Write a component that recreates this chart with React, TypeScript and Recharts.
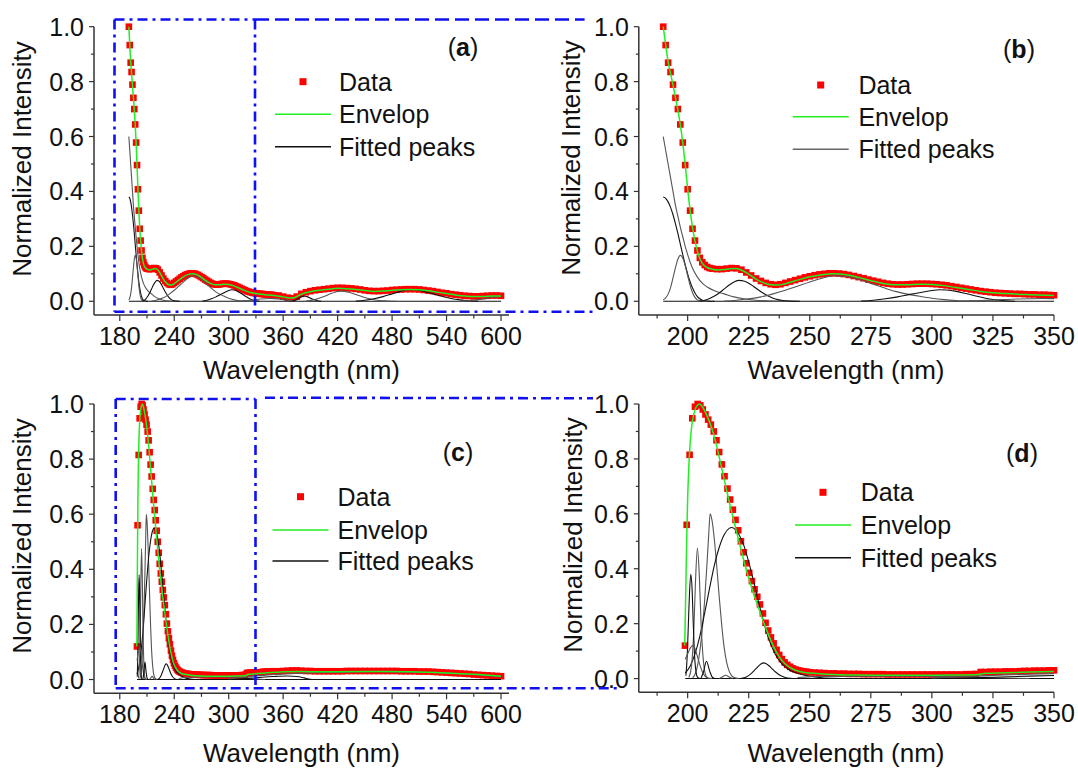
import { ComposedChart, XAxis, YAxis, Scatter, Line } from "recharts";

const FONT = "Arial, 'Liberation Sans', Helvetica, sans-serif";
const AXIS = "#333";
const RED = "#ff0000";
const GREEN = "#22ee22";
const BLUE = "#1010f0";

// sample 1 -> panels (a) and (b)
const S1_DATA = [
  [190, 1.0], [191, 0.933], [192, 0.869], [193, 0.835], [194, 0.789], [195, 0.741], [196, 0.7], [197, 0.644],
  [198, 0.578], [199, 0.496], [200, 0.408], [201, 0.33], [202, 0.264], [203, 0.221], [204, 0.185], [205, 0.158],
  [206, 0.142], [207, 0.132], [208, 0.125], [209, 0.121], [210, 0.119], [212, 0.117], [214, 0.117], [216, 0.119],
  [218, 0.121], [220, 0.12], [222, 0.115], [224, 0.105], [226, 0.094], [228, 0.083], [230, 0.074], [232, 0.067],
  [234, 0.062], [236, 0.06], [238, 0.062], [240, 0.067], [242, 0.072], [244, 0.077], [246, 0.082], [248, 0.087],
  [250, 0.091], [252, 0.095], [254, 0.098], [256, 0.1], [258, 0.102], [260, 0.102], [262, 0.101], [264, 0.099],
  [266, 0.096], [268, 0.092], [270, 0.088], [272, 0.084], [274, 0.079], [276, 0.075], [278, 0.071], [280, 0.067],
  [282, 0.064], [284, 0.062], [286, 0.061], [288, 0.061], [290, 0.062], [292, 0.063], [294, 0.064], [296, 0.064],
  [298, 0.064], [300, 0.063], [302, 0.062], [304, 0.06], [306, 0.058], [308, 0.055], [310, 0.052], [312, 0.049],
  [314, 0.046], [316, 0.043], [318, 0.04], [320, 0.037], [322, 0.035], [324, 0.033], [326, 0.031], [328, 0.03],
  [330, 0.029], [332, 0.028], [334, 0.027], [336, 0.027], [338, 0.026], [340, 0.025], [342, 0.025], [344, 0.024],
  [346, 0.024], [348, 0.023], [350, 0.022], [355, 0.021], [360, 0.017], [365, 0.013], [370, 0.011], [375, 0.017],
  [380, 0.027], [385, 0.033], [390, 0.037], [395, 0.04], [400, 0.042], [405, 0.044], [410, 0.046], [415, 0.048],
  [420, 0.049], [425, 0.049], [430, 0.048], [435, 0.047], [440, 0.045], [445, 0.043], [450, 0.04], [455, 0.038],
  [460, 0.037], [465, 0.037], [470, 0.038], [475, 0.039], [480, 0.041], [485, 0.042], [490, 0.043], [495, 0.044],
  [500, 0.044], [505, 0.044], [510, 0.043], [515, 0.041], [520, 0.039], [525, 0.037], [530, 0.034], [535, 0.031],
  [540, 0.029], [545, 0.026], [550, 0.024], [555, 0.022], [560, 0.02], [565, 0.019], [570, 0.018], [575, 0.018],
  [580, 0.019], [585, 0.02], [590, 0.021], [595, 0.021], [600, 0.02],
];

const S1_ENVELOP = [
  [190, 1.0], [191, 0.935], [192, 0.872], [193, 0.83], [194, 0.787], [195, 0.742], [196, 0.697], [197, 0.643],
  [198, 0.577], [199, 0.497], [200, 0.41], [201, 0.332], [202, 0.268], [203, 0.22], [204, 0.183], [205, 0.155],
  [206, 0.138], [208, 0.123], [210, 0.117], [213, 0.114], [216, 0.117], [219, 0.119], [222, 0.114], [225, 0.099],
  [228, 0.081], [231, 0.068], [234, 0.06], [237, 0.059], [240, 0.064], [245, 0.077], [250, 0.089], [255, 0.097],
  [260, 0.1], [265, 0.097], [270, 0.087], [275, 0.075], [280, 0.065], [285, 0.06], [290, 0.06], [295, 0.062],
  [300, 0.061], [305, 0.057], [310, 0.05], [315, 0.043], [320, 0.036], [325, 0.031], [330, 0.028], [340, 0.024],
  [350, 0.021], [360, 0.016], [367, 0.012], [372, 0.013], [378, 0.023], [385, 0.031], [390, 0.035], [400, 0.04],
  [410, 0.044], [420, 0.047], [430, 0.046], [440, 0.043], [450, 0.039], [460, 0.036], [470, 0.037], [480, 0.04],
  [490, 0.042], [500, 0.043], [510, 0.042], [520, 0.038], [530, 0.033], [540, 0.028], [550, 0.023], [560, 0.019],
  [570, 0.017], [580, 0.017], [590, 0.019], [600, 0.019],
];

const S1_PEAK_190A = [
  [190, 0.6], [191, 0.55], [192, 0.5], [193, 0.45], [194, 0.4], [195, 0.35], [196, 0.31], [197, 0.27],
  [198, 0.235], [199, 0.2], [200, 0.17], [202, 0.12], [204, 0.088], [206, 0.066], [208, 0.052], [211, 0.038],
  [215, 0.027], [219, 0.016], [223, 0.009], [228, 0.004], [235, 0.001], [245, 0],
];
const S1_PEAK_190B = [
  [190, 0.38], [191, 0.375], [192, 0.362], [193, 0.342], [194, 0.315], [195, 0.283], [196, 0.247], [197, 0.208],
  [198, 0.17], [199, 0.133], [200, 0.1], [201, 0.071], [202, 0.048], [203, 0.03], [204, 0.017], [205, 0.009],
  [206, 0.004], [208, 0.001], [211, 0],
];
const S1_PEAK_197 = [
  [190, 0.005], [191, 0.012], [192, 0.026], [193, 0.05], [194, 0.085], [195, 0.122], [196, 0.153], [197, 0.167],
  [198, 0.158], [199, 0.13], [200, 0.093], [201, 0.058], [202, 0.031], [203, 0.014], [204, 0.005], [206, 0.001],
  [208, 0],
];
const S1_PEAK_221 = [
  [205, 0.001], [207, 0.004], [209, 0.01], [211, 0.019], [213, 0.031], [215, 0.045], [217, 0.059], [219, 0.07],
  [221, 0.076], [223, 0.074], [225, 0.066], [227, 0.054], [229, 0.041], [231, 0.029], [233, 0.019], [235, 0.011],
  [237, 0.006], [239, 0.003], [242, 0.001], [246, 0],
];
const S1_PEAK_260 = [
  [215, 0.001], [220, 0.004], [225, 0.009], [230, 0.016], [235, 0.027], [240, 0.04], [245, 0.055], [250, 0.07],
  [255, 0.084], [260, 0.093], [265, 0.09], [270, 0.08], [275, 0.065], [280, 0.05], [285, 0.036], [290, 0.026],
  [295, 0.018], [300, 0.011], [305, 0.006], [310, 0.003], [318, 0.001], [325, 0],
];
const S1_PEAK_303 = [
  [271, 0.001], [276, 0.004], [281, 0.009], [286, 0.016], [291, 0.025], [296, 0.033], [300, 0.039], [303, 0.042],
  [306, 0.041], [310, 0.036], [314, 0.028], [318, 0.019], [322, 0.011], [326, 0.005], [330, 0.002], [334, 0],
];
const S1_PEAK_345 = [
  [315, 0.001], [325, 0.004], [335, 0.008], [345, 0.01], [350, 0.0095], [355, 0.008], [365, 0.004], [375, 0.001],
];
const S1_PEAK_383 = [
  [370, 0.001], [375, 0.006], [380, 0.016], [383, 0.019], [387, 0.016], [392, 0.008], [397, 0.003], [402, 0],
];
const S1_PEAK_423 = [
  [385, 0.001], [395, 0.006], [405, 0.017], [412, 0.027], [418, 0.034], [423, 0.037], [428, 0.036], [435, 0.03],
  [445, 0.019], [455, 0.009], [465, 0.003], [475, 0.001], [485, 0],
];
const S1_PEAK_500 = [
  [440, 0.001], [450, 0.004], [460, 0.009], [470, 0.017], [480, 0.027], [490, 0.037], [497, 0.042], [505, 0.042],
  [515, 0.036], [525, 0.027], [535, 0.018], [545, 0.01], [555, 0.005], [565, 0.002], [575, 0],
];
const S1_PEAK_END = [[555, 0.001], [565, 0.003], [575, 0.006], [585, 0.011], [595, 0.016], [600, 0.018]];
const S1_BASE = [[190, 0], [350, 0], [600, 0]];

// sample 2 -> panels (c) and (d)
const S2_DATA = [
  [198.9, 0.12], [199.6, 0.56], [200.8, 0.815], [201.9, 0.948], [203.0, 0.99], [204.1, 1.0], [205.2, 0.995],
  [206.2, 0.98], [207.3, 0.962], [208.4, 0.943], [209.5, 0.925], [210.7, 0.9], [211.8, 0.868], [212.9, 0.825],
  [214.0, 0.78], [215.1, 0.737], [216.3, 0.692], [217.4, 0.652], [218.5, 0.615], [219.6, 0.578], [220.7, 0.54],
  [221.8, 0.5], [222.9, 0.46], [224.0, 0.42], [225.2, 0.385], [226.3, 0.355], [227.4, 0.325], [228.5, 0.298],
  [229.6, 0.27], [230.8, 0.237], [231.9, 0.203], [233.0, 0.175], [234.1, 0.15], [235.2, 0.128], [236.4, 0.105],
  [237.5, 0.086], [238.6, 0.071], [239.7, 0.059], [240.8, 0.05], [242.0, 0.043], [243.1, 0.037], [244.2, 0.033],
  [245.3, 0.03], [246.4, 0.028], [247.6, 0.026], [248.7, 0.025], [250, 0.023], [252, 0.022], [254, 0.021],
  [256, 0.02], [258, 0.019], [260, 0.019], [262, 0.018], [264, 0.018], [266, 0.017], [268, 0.017], [270, 0.017],
  [272, 0.016], [274, 0.016], [276, 0.016], [278, 0.016], [280, 0.016], [282, 0.015], [284, 0.015], [286, 0.015],
  [288, 0.015], [290, 0.015], [292, 0.015], [294, 0.015], [296, 0.015], [298, 0.015], [300, 0.015], [302, 0.015],
  [304, 0.015], [306, 0.015], [308, 0.015], [310, 0.015], [312, 0.015], [314, 0.016], [316, 0.016], [318, 0.017],
  [320, 0.024], [322, 0.024], [324, 0.025], [326, 0.025], [328, 0.025], [330, 0.026], [332, 0.026], [334, 0.026],
  [336, 0.027], [338, 0.028], [340, 0.028], [342, 0.029], [344, 0.029], [346, 0.029], [348, 0.03], [350, 0.03],
  [355, 0.03], [360, 0.031], [365, 0.032], [370, 0.033], [375, 0.033], [380, 0.032], [385, 0.031], [390, 0.031],
  [395, 0.03], [400, 0.03], [405, 0.03], [410, 0.03], [415, 0.03], [420, 0.03], [425, 0.03], [430, 0.031],
  [435, 0.031], [440, 0.031], [445, 0.031], [450, 0.031], [455, 0.031], [460, 0.031], [465, 0.031], [470, 0.031],
  [475, 0.031], [480, 0.031], [485, 0.031], [490, 0.03], [495, 0.03], [500, 0.03], [505, 0.03], [510, 0.029],
  [515, 0.029], [520, 0.029], [525, 0.028], [530, 0.027], [535, 0.026], [540, 0.025], [545, 0.024], [550, 0.023],
  [555, 0.022], [560, 0.021], [565, 0.02], [570, 0.018], [575, 0.017], [580, 0.016], [585, 0.015], [590, 0.014],
  [595, 0.013], [600, 0.012],
];

const S2_ENVELOP = [
  [198.8, 0.12], [199.2, 0.3], [199.6, 0.5], [200, 0.655], [200.5, 0.775], [201, 0.855], [201.5, 0.905],
  [202, 0.94], [203, 0.978], [204, 0.995], [205, 1.0], [206, 0.99], [207, 0.975], [208, 0.956], [209, 0.934],
  [210, 0.908], [211, 0.878], [212, 0.843], [213, 0.804], [214, 0.764], [215, 0.724], [216, 0.684], [217, 0.645],
  [218, 0.608], [219, 0.572], [220, 0.536], [221, 0.5], [222, 0.465], [223, 0.43], [224, 0.397], [225, 0.366],
  [226, 0.337], [227, 0.309], [228, 0.283], [229, 0.258], [230, 0.233], [231, 0.208], [232, 0.184], [233, 0.161],
  [234, 0.14], [235, 0.12], [236, 0.102], [237, 0.087], [238, 0.073], [239, 0.062], [240, 0.053], [242, 0.04],
  [244, 0.031], [246, 0.026], [248, 0.022], [250, 0.02], [255, 0.017], [260, 0.015], [270, 0.013], [280, 0.012],
  [290, 0.012], [300, 0.012], [310, 0.013], [318, 0.014], [322, 0.019], [330, 0.021], [340, 0.024], [350, 0.026],
  [360, 0.028], [380, 0.029], [400, 0.028], [450, 0.029], [500, 0.028], [540, 0.024], [570, 0.019], [600, 0.012],
];

const S2_PEAK_209 = [
  [202, 0.003], [203, 0.015], [204, 0.045], [205, 0.1], [206, 0.18], [207, 0.29], [208, 0.43], [208.6, 0.52],
  [209.2, 0.6], [210, 0.575], [211, 0.5], [212, 0.4], [213, 0.29], [214, 0.19], [215, 0.11], [216, 0.058],
  [217, 0.027], [218, 0.011], [219, 0.004], [221, 0],
];
const S2_PEAK_218 = [
  [199, 0.02], [201, 0.045], [203, 0.09], [205, 0.155], [207, 0.24], [209, 0.33], [211, 0.415], [213, 0.48],
  [215, 0.525], [217, 0.547], [218, 0.55], [219, 0.547], [221, 0.525], [223, 0.485], [225, 0.425], [227, 0.355],
  [229, 0.28], [231, 0.21], [233, 0.15], [235, 0.105], [237, 0.072], [239, 0.05], [241, 0.035], [244, 0.022],
  [248, 0.012], [253, 0.005], [260, 0.001], [268, 0],
];
const S2_PEAK_204 = [
  [200.5, 0.004], [201.5, 0.04], [202.5, 0.17], [203.2, 0.35], [204, 0.475], [204.8, 0.37], [205.5, 0.2],
  [206.5, 0.06], [207.5, 0.01], [208.5, 0],
];
const S2_PEAK_201 = [
  [199.3, 0.01], [199.8, 0.08], [200.3, 0.2], [200.8, 0.32], [201.3, 0.38], [201.8, 0.33], [202.3, 0.2],
  [203, 0.06], [204, 0.005], [205, 0],
];
const S2_PEAK_202 = [
  [199, 0.07], [200, 0.09], [201, 0.11], [202, 0.12], [203, 0.11], [204, 0.08], [205, 0.05], [206, 0.025],
  [207, 0.01], [208, 0.003], [210, 0],
];
const S2_PEAK_208 = [[205.5, 0.002], [206.5, 0.025], [207.7, 0.063], [209, 0.028], [210, 0.006], [211, 0]];
const S2_PEAK_216 = [[213, 0], [214, 0.005], [215.6, 0.012], [217, 0.006], [218.5, 0]];
const S2_PEAK_231 = [
  [222, 0.001], [224, 0.006], [226, 0.018], [228, 0.036], [230, 0.053], [231, 0.057], [232, 0.055], [234, 0.041],
  [236, 0.024], [238, 0.011], [240, 0.004], [242, 0.001], [244, 0],
];
const S2_PEAK_280 = [
  [245, 0.004], [255, 0.008], [270, 0.009], [290, 0.009], [310, 0.008], [320, 0.005], [330, 0.002], [340, 0],
];
const S2_PEAK_365 = [
  [295, 0], [310, 0.002], [325, 0.005], [340, 0.009], [350, 0.011], [355, 0.012], [365, 0.013], [375, 0.011],
  [383, 0.006], [390, 0.001], [395, 0],
];
const S2_PEAK_460 = [
  [300, 0.002], [320, 0.01], [340, 0.016], [350, 0.018], [360, 0.02], [380, 0.023], [400, 0.025], [430, 0.027],
  [460, 0.028], [500, 0.027], [530, 0.025], [560, 0.02], [580, 0.015], [600, 0.01],
];
const S2_BASE = [[199, 0], [350, 0], [600, 0]];

// axis ticks
const WIDE_MAJOR = [180, 240, 300, 360, 420, 480, 540, 600];
const WIDE_MINOR = [210, 270, 330, 390, 450, 510, 570];
const ZOOM_MAJOR = [200, 225, 250, 275, 300, 325, 350];
const ZOOM_MINOR = [187.5, 212.5, 237.5, 262.5, 287.5, 312.5, 337.5];
const Y_TICKS = [0, 0.1, 0.2, 0.3, 0.4, 0.5, 0.6, 0.7, 0.8, 0.9, 1.0];

type Pt = { x: number; y: number };
const toPts = (arr: number[][]): Pt[] => arr.map(([x, y]) => ({ x, y }));
const upTo = (arr: number[][], max: number) => toPts(arr.filter(([x]) => x <= max));

const S1_PEAKS = [
  S1_BASE, S1_PEAK_190A, S1_PEAK_190B, S1_PEAK_197, S1_PEAK_221, S1_PEAK_260, S1_PEAK_303,
  S1_PEAK_345, S1_PEAK_383, S1_PEAK_423, S1_PEAK_500, S1_PEAK_END,
];
const S2_PEAKS = [
  S2_BASE, S2_PEAK_209, S2_PEAK_218, S2_PEAK_204, S2_PEAK_201, S2_PEAK_202, S2_PEAK_208, S2_PEAK_216,
  S2_PEAK_231, S2_PEAK_280, S2_PEAK_365, S2_PEAK_460,
];

function XTick(props: any) {
  const { x, y, payload, majors } = props;
  const axisY = y - 14;
  const major = majors.includes(payload.value);
  return (
    <g>
      <line x1={x} y1={axisY} x2={x} y2={axisY + (major ? 6 : 3.5)} stroke={AXIS} strokeWidth={1.2} />
      {major && (
        <text x={x} y={axisY + 29.5} textAnchor="middle" fontSize={25} fontFamily={FONT} fill="#111">
          {payload.value}
        </text>
      )}
    </g>
  );
}

function YTick(props: any) {
  const { x, y, payload } = props;
  const axisX = x + 10;
  const v = payload.value;
  const major = Math.round(v * 10) % 2 === 0;
  return (
    <g>
      <line x1={axisX} y1={y} x2={axisX - (major ? 5 : 3)} y2={y} stroke={AXIS} strokeWidth={1.2} />
      {major && (
        <text x={axisX - 10} y={y + 9} textAnchor="end" fontSize={25} fontFamily={FONT} fill="#111">
          {v.toFixed(1)}
        </text>
      )}
    </g>
  );
}

const Square = (p: any) => <rect x={p.cx - 3.3} y={p.cy - 3.3} width={6.6} height={6.6} fill={RED} />;

interface PanelProps {
  left: number;
  top: number;
  width: number;
  height: number;
  margin: { top: number; right: number; bottom: number; left: number };
  domain: [number, number];
  majors: number[];
  minors: number[];
  maxX: number;
  data: number[][];
  envelop: number[][];
  peaks: number[][][];
}

function Panel({ left, top, width, height, margin, domain, majors, minors, maxX, data, envelop, peaks }: PanelProps) {
  const xTicks = [...majors, ...minors].sort((a, b) => a - b);
  return (
    <div style={{ position: "absolute", left, top, width, height }}>
      <ComposedChart width={width} height={height} margin={margin}>
        <XAxis
          type="number"
          dataKey="x"
          domain={domain}
          ticks={xTicks}
          interval={0}
          height={40}
          tickSize={6}
          tickMargin={8}
          tickLine={false}
          axisLine={{ stroke: AXIS, strokeWidth: 1.5 }}
          tick={(p: any) => <XTick {...p} majors={majors} />}
        />
        <YAxis
          type="number"
          dataKey="y"
          domain={[-0.05, 1]}
          ticks={Y_TICKS}
          interval={0}
          width={60}
          tickSize={5}
          tickMargin={5}
          tickLine={false}
          axisLine={{ stroke: AXIS, strokeWidth: 1.5 }}
          tick={(p: any) => <YTick {...p} />}
        />
        <Scatter data={upTo(data, maxX)} dataKey="y" fill={RED} shape={Square} isAnimationActive={false} />
        {peaks.map((pk, i) => (
          <Line
            key={i}
            data={upTo(pk, maxX)}
            dataKey="y"
            type="monotone"
            stroke={i % 2 ? "#555" : "#111"}
            strokeWidth={1.1}
            dot={false}
            activeDot={false}
            isAnimationActive={false}
            zIndex={650}
          />
        ))}
        <Line
          data={upTo(envelop, maxX)}
          dataKey="y"
          type="monotone"
          stroke={GREEN}
          strokeWidth={1.5}
          dot={false}
          activeDot={false}
          isAnimationActive={false}
          zIndex={700}
        />
      </ComposedChart>
    </div>
  );
}

function LegendBox({ cx, textX, rows, peakColor }: { cx: number; textX: number; rows: number[]; peakColor: string }) {
  const t = { fontSize: 25, fontFamily: FONT, fill: "#111" };
  return (
    <g>
      <rect x={cx - 3.5} y={rows[0] - 3.5} width={7} height={7} fill={RED} />
      <text x={textX} y={rows[0] + 9} {...t}>Data</text>
      <line x1={cx - 28} x2={cx + 28} y1={rows[1]} y2={rows[1]} stroke={GREEN} strokeWidth={1.6} />
      <text x={textX} y={rows[1] + 9} {...t}>Envelop</text>
      <line x1={cx - 28} x2={cx + 28} y1={rows[2]} y2={rows[2]} stroke={peakColor} strokeWidth={1.4} />
      <text x={textX} y={rows[2] + 9} {...t}>Fitted peaks</text>
    </g>
  );
}

function YTitle({ x, y }: { x: number; y: number }) {
  return (
    <text transform={`translate(${x},${y}) rotate(-90)`} textAnchor="middle" fontSize={26} fontFamily={FONT} fill="#111">
      Normalized Intensity
    </text>
  );
}

function XTitle({ x, y }: { x: number; y: number }) {
  return (
    <text x={x} y={y} textAnchor="middle" fontSize={26} fontFamily={FONT} fill="#111">
      Wavelength (nm)
    </text>
  );
}

function Tag({ x, y, letter }: { x: number; y: number; letter: string }) {
  return (
    <text x={x} y={y} textAnchor="middle" fontSize={25} fontFamily={FONT} fill="#111">
      (<tspan fontWeight="bold">{letter}</tspan>)
    </text>
  );
}

export default function App() {
  const dd = "10 5 3 5";
  return (
    <div style={{ position: "absolute", left: 0, top: 0, width: 1078, height: 769, background: "#fff" }}>
      <Panel
        left={0} top={0} width={540} height={385}
        margin={{ top: 26.7, right: 31, bottom: 30, left: 34 }}
        domain={[151.6, 608.8]} majors={WIDE_MAJOR} minors={WIDE_MINOR} maxX={610}
        data={S1_DATA} envelop={S1_ENVELOP} peaks={S1_PEAKS}
      />
      <Panel
        left={540} top={0} width={538} height={385}
        margin={{ top: 26.7, right: 24, bottom: 30, left: 38.8 }}
        domain={[180, 350]} majors={ZOOM_MAJOR} minors={ZOOM_MINOR} maxX={350}
        data={S1_DATA} envelop={S1_ENVELOP} peaks={S1_PEAKS}
      />
      <Panel
        left={0} top={385} width={540} height={384}
        margin={{ top: 19, right: 31, bottom: 35.7, left: 34 }}
        domain={[151.6, 608.8]} majors={WIDE_MAJOR} minors={WIDE_MINOR} maxX={610}
        data={S2_DATA} envelop={S2_ENVELOP} peaks={S2_PEAKS}
      />
      <Panel
        left={540} top={385} width={538} height={384}
        margin={{ top: 19, right: 24, bottom: 36.7, left: 38.8 }}
        domain={[180, 350]} majors={ZOOM_MAJOR} minors={ZOOM_MINOR} maxX={350}
        data={S2_DATA} envelop={S2_ENVELOP} peaks={S2_PEAKS}
      />
      <svg width={1078} height={769} style={{ position: "absolute", left: 0, top: 0, pointerEvents: "none" }}>
        <YTitle x={31} y={159} />
        <YTitle x={580} y={158} />
        <YTitle x={31} y={536} />
        <YTitle x={582} y={535} />
        <XTitle x={301.5} y={378.6} />
        <XTitle x={846} y={378.6} />
        <XTitle x={301.5} y={762} />
        <XTitle x={846} y={762} />
        <Tag x={463} y={55.7} letter="a" />
        <Tag x={1019} y={58.3} letter="b" />
        <Tag x={458} y={460.7} letter="c" />
        <Tag x={1022} y={462.3} letter="d" />
        <LegendBox cx={303} textX={339} rows={[81.7, 114.3, 146.7]} peakColor="#111" />
        <LegendBox cx={820.7} textX={858.4} rows={[85, 116.7, 149.3]} peakColor="#666" />
        <LegendBox cx={300.5} textX={337.5} rows={[496.7, 530, 561]} peakColor="#111" />
        <LegendBox cx={823} textX={860.8} rows={[492.3, 525, 557.7]} peakColor="#111" />
        <g stroke={BLUE} strokeWidth={2.6} fill="none">
          <line x1={114.5} y1={19.5} x2={114.5} y2={311.7} strokeDasharray={dd} />
          <line x1={114.5} y1={19.5} x2={255} y2={19.5} strokeDasharray={dd} />
          <line x1={255} y1={19.5} x2={584.6} y2={19.5} strokeDasharray="14 6" />
          <line x1={255} y1={19.5} x2={255} y2={311.7} strokeDasharray={dd} />
          <line x1={114.5} y1={311.7} x2={593} y2={311.7} strokeDasharray={dd} />
          <line x1={115.7} y1={399} x2={115.7} y2={688.3} strokeDasharray={dd} />
          <line x1={115.7} y1={399} x2={255.5} y2={399} strokeDasharray={dd} />
          <line x1={255.5} y1={399} x2={255.5} y2={688.3} strokeDasharray={dd} />
          <line x1={265} y1={397.7} x2={593} y2={398.3} strokeDasharray={dd} />
          <line x1={115.7} y1={688.3} x2={620.6} y2={688.3} strokeDasharray={dd} />
        </g>
      </svg>
    </div>
  );
}
